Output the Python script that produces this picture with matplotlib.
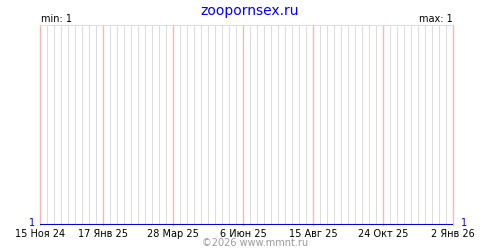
import numpy as np
import matplotlib
matplotlib.use("Agg")
import matplotlib.pyplot as plt
import matplotlib.dates as mdates
from datetime import datetime

# visits per day (single constant value over the period)
dates = ["2024-11-15", "2026-01-02"]
values = [1, 1]
tick_dates = ["2024-11-15", "2025-01-17", "2025-03-28", "2025-06-06",
              "2025-08-15", "2025-10-24", "2026-01-02"]
tick_labels = ["15 Ноя 24", "17 Янв 25", "28 Мар 25", "6 Июн 25",
               "15 Авг 25", "24 Окт 25", "2 Янв 26"]
site = "zoopornsex.ru"
credit = "©2026 www.mmnt.ru"

x = mdates.date2num([datetime.strptime(d, "%Y-%m-%d") for d in dates])
xt = mdates.date2num([datetime.strptime(d, "%Y-%m-%d") for d in tick_dates])

fig = plt.figure(figsize=(5, 2.5), dpi=100)
ax = fig.add_axes([0.08, 0.1, 0.826, 0.8])

ax.plot(x, values, color="#0000dd", lw=1.5, solid_capstyle="butt", zorder=5)
ax.set_xlim(x[0], x[-1])
ax.set_ylim(min(values), min(values) + 1)

# weekly grey grid, red lines on labelled dates
weeks = np.arange(x[0], x[-1] + 1, 7)
for d in weeks:
    if not np.any(np.isclose(xt, d)):
        ax.axvline(d, color="#dddddd", lw=0.72, zorder=1, snap=True)
for d in xt:
    ax.axvline(d, color="#ffb4b4", lw=1.0, zorder=2, snap=True, clip_on=False)

ax.set_xticks(xt)
ax.set_xticklabels(tick_labels, fontsize=7)
ax.tick_params(axis="x", length=0, pad=3)
ax.set_yticks([])
for s in ["left", "right", "bottom"]:
    ax.spines[s].set_visible(False)
ax.spines["top"].set_color("#dddddd")
ax.spines["top"].set_linewidth(0.72)

fig.text(0.5, 0.955, site, color="#0000ff", fontsize=10, ha="center", va="center")
fig.text(0.082, 0.925, "min: %d" % min(values), fontsize=7, ha="left", va="center")
fig.text(0.906, 0.925, "max: %d" % max(values), fontsize=7, ha="right", va="center")
fig.text(0.07, 0.108, str(values[0]), color="#0000dd", fontsize=7, ha="right", va="center")
fig.text(0.922, 0.108, str(values[-1]), color="#0000dd", fontsize=7, ha="left", va="center")
fig.text(0.51, 0.028, credit, color="#999999", fontsize=7, ha="center", va="center")

fig.savefig("out.png", dpi=100)
